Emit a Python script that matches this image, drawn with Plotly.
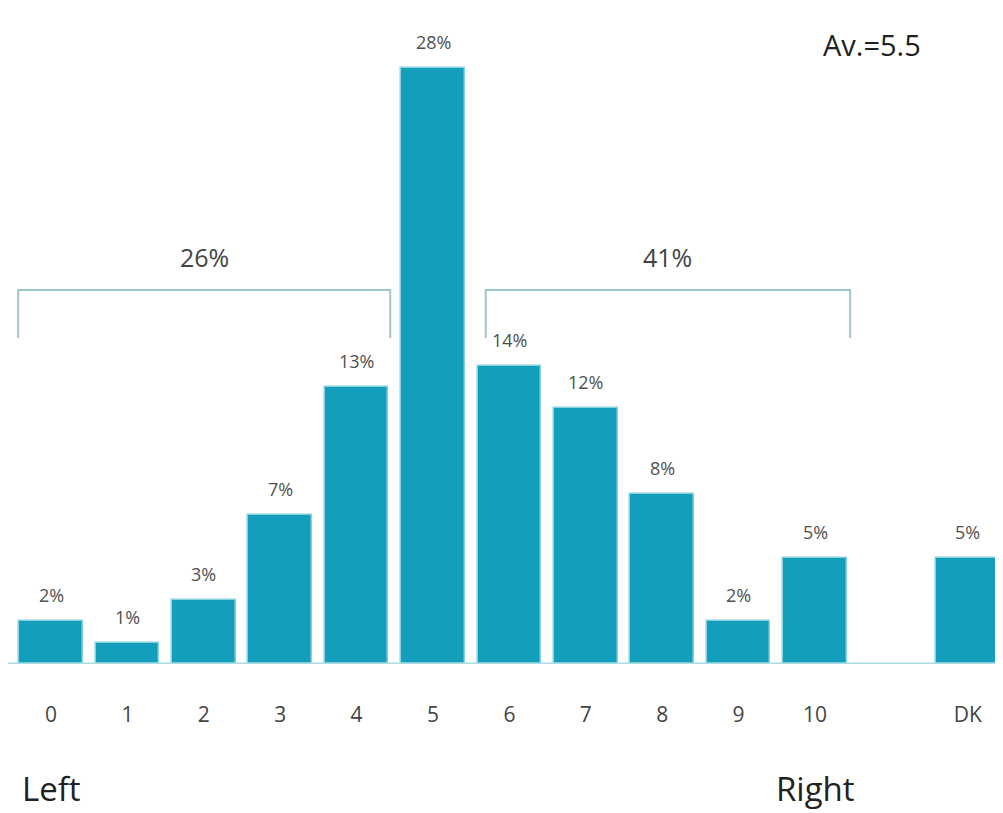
import plotly.graph_objects as go

categories = ["0", "1", "2", "3", "4", "5", "6", "7", "8", "9", "10", "DK"]
positions = [0, 1, 2, 3, 4, 5, 6, 7, 8, 9, 10, 12]
values = [2, 1, 3, 7, 13, 28, 14, 12, 8, 2, 5, 5]
value_labels = ["2%", "1%", "3%", "7%", "13%", "28%", "14%", "12%", "8%", "2%", "5%", "5%"]
group_labels = ["26%", "41%"]
group_spans = [(-0.43, 4.44), (5.69, 10.46)]
average_label = "Av.=5.5"

FONT = "Open Sans"
BAR = "#139ebb"
TXT = "#444444"

# page body has an 8px margin: figure is drawn 8px right/down of the window origin
W, H = 995, 805
PLOT_H = 656  # baseline position within figure

fig = go.Figure()
fig.add_trace(go.Bar(
    x=positions, y=values, width=0.83,
    marker=dict(color=BAR, line=dict(color="#86d2e0", width=1.5)),
    hoverinfo="skip", showlegend=False,
))

for xp, v, lab in zip(positions, values, value_labels):
    fig.add_annotation(x=xp, y=v, text=lab, showarrow=False, yshift=26,
                       xanchor="center", yanchor="middle",
                       font=dict(family=FONT, size=18, color="#505050"))

bracket_top = 17.56
bracket_bot = 15.3
for (x0, x1), lab in zip(group_spans, group_labels):
    fig.add_trace(go.Scatter(
        x=[x0, x0, x1, x1], y=[bracket_bot, bracket_top, bracket_top, bracket_bot],
        mode="lines", line=dict(color="#9cc8cc", width=2),
        hoverinfo="skip", showlegend=False,
    ))
    fig.add_annotation(x=(x0 + x1) / 2, y=bracket_top, text=lab, showarrow=False,
                       yshift=33, xanchor="center", yanchor="middle",
                       font=dict(family=FONT, size=25, color=TXT))

fig.add_annotation(x=864 / W, y=1 - 36 / PLOT_H, xref="paper", yref="paper",
                   text=average_label, showarrow=False, xanchor="center", yanchor="middle",
                   font=dict(family=FONT, size=29, color="#222222"))

for xp, lab in [(0, "Left"), (10, "Right")]:
    fig.add_annotation(x=xp, y=0, yref="y", text=lab, showarrow=False,
                       yshift=-124, xanchor="center", yanchor="middle",
                       font=dict(family=FONT, size=33, color="#222222"))

fig.update_layout(
    width=W, height=H,
    margin=dict(l=0, r=0, t=0, b=H - PLOT_H),
    paper_bgcolor="white", plot_bgcolor="white",
    xaxis=dict(range=[-43 / 76.4, -43 / 76.4 + W / 76.4], tickvals=positions, ticktext=categories,
               showgrid=False, zeroline=False, showline=False,
               ticks="outside", ticklen=32, tickcolor="rgba(0,0,0,0)",
               tickfont=dict(family=FONT, size=21, color=TXT)),
    yaxis=dict(range=[0, PLOT_H / 21.3], visible=False, showgrid=False, zeroline=False),
    shapes=[dict(type="line", xref="paper", yref="y", x0=0.0, x1=1, y0=0, y1=0,
                 line=dict(color="#a9dde6", width=3), layer="above")],
    bargap=0,
)

fig.write_html("out.html")
